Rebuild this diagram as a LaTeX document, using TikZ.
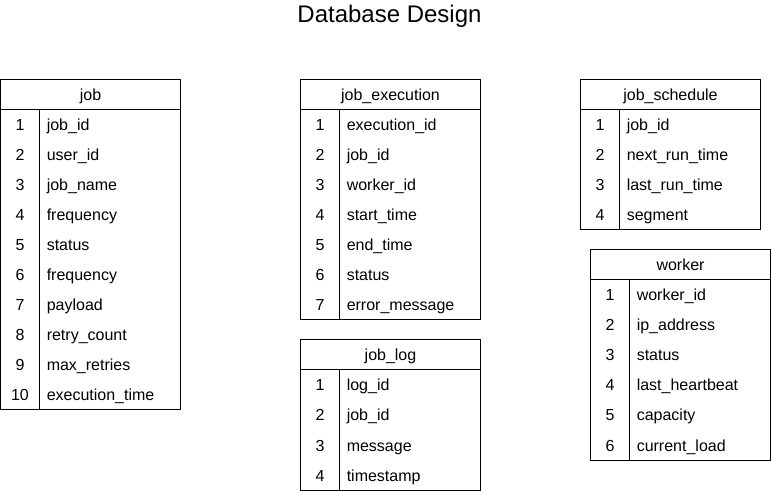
\documentclass[tikz,border=0pt]{standalone}
\usepackage{fontspec}
\setmainfont{Liberation Sans}
\usetikzlibrary{positioning}

% one table: #1 name, #2 left, #3 top, #4 number of rows, #5 title, #6 fields
\newcommand{\dbtable}[6]{%
  \draw[tblline] (#2,#3) rectangle ++(180,{30+30*#4});
  \draw[tblline] (#2,#3+30) -- ++(180,0);
  \draw[tblline] (#2+39,#3+30) -- ++(0,{30*#4});
  \node[hdrtext] (#1) at (#2+90,#3+15) {#5};
  \foreach \f [count=\i] in {#6} {
    \node[numtext] (#1-n\i) at (#2+19.5,{#3+15+30*\i}) {\i};
    \node[fldtext] (#1-f\i) at (#2+46,{#3+15+30*\i}) {\f};
  }%
}

\begin{document}
\begin{tikzpicture}[x=0.75pt,y=-0.75pt,
    tblline/.style={draw=black,line width=0.75pt},
    celltext/.style={font=\fontsize{12}{14}\selectfont,inner sep=0pt,
      text height=10pt,text depth=1pt},
    hdrtext/.style={celltext},
    numtext/.style={celltext},
    fldtext/.style={celltext,anchor=west}]
  \useasboundingbox (0,0) rectangle (771,491);
  \node[font=\fontsize{18}{21}\selectfont] (title) at (389.5,16) {Database Design};

  \dbtable{job}{0.5}{80}{10}{job}{job\_id,user\_id,job\_name,frequency,status,frequency,payload,retry\_count,max\_retries,execution\_time}
  \dbtable{exec}{300.5}{80}{7}{job\_execution}{execution\_id,job\_id,worker\_id,start\_time,end\_time,status,error\_message}
  \dbtable{log}{300.5}{340}{4}{job\_log}{log\_id,job\_id,message,timestamp}
  \dbtable{sched}{580.5}{80}{4}{job\_schedule}{job\_id,next\_run\_time,last\_run\_time,segment}
  \dbtable{worker}{590.5}{250}{6}{worker}{worker\_id,ip\_address,status,last\_heartbeat,capacity,current\_load}
\end{tikzpicture}
\end{document}
